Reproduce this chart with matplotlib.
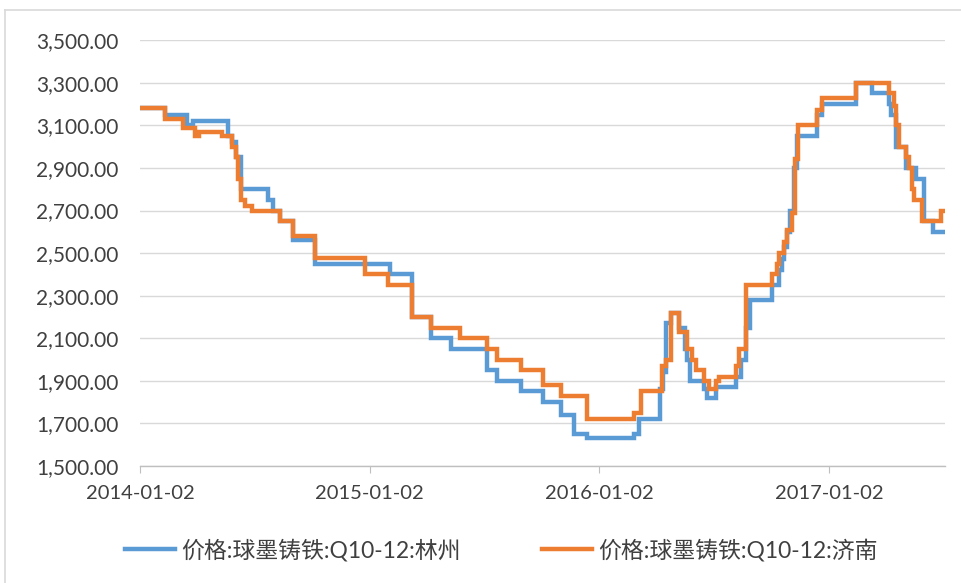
import matplotlib

matplotlib.use("Agg")
import matplotlib.dates as mdates
import matplotlib.pyplot as plt
import pandas as pd
from matplotlib.lines import Line2D
from matplotlib.ticker import FuncFormatter

plt.rcParams["font.family"] = ["Lato", "Noto Sans CJK SC", "DejaVu Sans"]
plt.rcParams["axes.unicode_minus"] = False

# 价格:球墨铸铁:Q10-12:林州 (调价日期, 元/吨)
linzhou_dates = [
    "2014-01-02", "2014-02-11", "2014-03-18", "2014-03-27", "2014-05-22",
    "2014-05-28", "2014-06-03", "2014-06-12", "2014-07-24", "2014-08-01",
    "2014-08-12", "2014-09-02", "2014-10-07", "2015-02-03", "2015-03-11",
    "2015-04-10", "2015-05-12", "2015-07-07", "2015-07-24", "2015-08-31",
    "2015-10-04", "2015-11-03", "2015-11-23", "2015-12-14", "2016-02-27",
    "2016-03-06", "2016-04-07", "2016-04-12", "2016-04-18", "2016-04-25",
    "2016-05-08", "2016-05-17", "2016-05-21", "2016-05-25", "2016-06-17",
    "2016-06-22", "2016-07-06", "2016-08-07", "2016-08-15", "2016-08-22",
    "2016-08-28", "2016-10-02", "2016-10-14", "2016-10-18", "2016-10-22",
    "2016-10-27", "2016-10-31", "2016-11-06", "2016-11-11", "2016-12-14",
    "2016-12-21", "2017-02-14", "2017-03-11", "2017-04-07", "2017-04-10",
    "2017-04-18", "2017-05-04", "2017-05-20", "2017-06-02", "2017-06-15",
    "2017-07-04",
]
linzhou_prices = [
    3180, 3150, 3100, 3120, 3050,
    3020, 2950, 2800, 2750, 2700,
    2650, 2560, 2450, 2400, 2200,
    2100, 2050, 1950, 1900, 1850,
    1800, 1740, 1650, 1630, 1650,
    1720, 1860, 1940, 2170, 2220,
    2150, 2050, 2000, 1900, 1860,
    1820, 1870, 1920, 2000, 2150,
    2280, 2350, 2420, 2470, 2530,
    2600, 2700, 2900, 3050, 3150,
    3200, 3300, 3250, 3200, 3150,
    3000, 2900, 2850, 2650, 2600,
    2600,
]

# 价格:球墨铸铁:Q10-12:济南
jinan_dates = [
    "2014-01-02", "2014-02-11", "2014-03-11", "2014-03-30", "2014-04-06",
    "2014-05-12", "2014-05-28", "2014-06-03", "2014-06-07", "2014-06-11",
    "2014-06-18", "2014-06-29", "2014-08-12", "2014-09-02", "2014-10-07",
    "2014-12-25", "2015-01-31", "2015-03-11", "2015-04-10", "2015-05-25",
    "2015-07-07", "2015-07-24", "2015-08-31", "2015-10-04", "2015-11-03",
    "2015-12-14", "2016-02-27", "2016-03-09", "2016-04-11", "2016-04-18",
    "2016-04-25", "2016-05-08", "2016-05-21", "2016-05-29", "2016-06-04",
    "2016-06-17", "2016-06-25", "2016-07-06", "2016-07-11", "2016-08-07",
    "2016-08-12", "2016-08-23", "2016-10-02", "2016-10-10", "2016-10-14",
    "2016-10-22", "2016-10-27", "2016-11-03", "2016-11-08", "2016-11-13",
    "2016-12-13", "2016-12-21", "2017-02-14", "2017-04-07", "2017-04-15",
    "2017-04-18", "2017-04-23", "2017-05-04", "2017-05-09", "2017-05-14",
    "2017-05-17", "2017-05-29", "2017-06-29", "2017-07-04",
]
jinan_prices = [
    3180, 3130, 3090, 3050, 3070,
    3050, 3000, 2950, 2850, 2750,
    2720, 2700, 2650, 2580, 2475,
    2400, 2350, 2200, 2150, 2100,
    2050, 2000, 1950, 1880, 1830,
    1720, 1750, 1850, 1970, 2000,
    2220, 2130, 2050, 2000, 1950,
    1900, 1860, 1900, 1920, 1970,
    2050, 2350, 2400, 2450, 2500,
    2550, 2610, 2690, 2940, 3100,
    3170, 3230, 3300, 3250, 3190,
    3100, 3000, 2950, 2900, 2800,
    2750, 2650, 2700, 2700,
]

x_ticks = ["2014-01-02", "2015-01-02", "2016-01-02", "2017-01-02"]
y_ticks = [1500, 1700, 1900, 2100, 2300, 2500, 2700, 2900, 3100, 3300, 3500]

BLUE = "#5B9BD5"
ORANGE = "#ED7D31"
TEXT = "#404040"

fig = plt.figure(figsize=(9.62, 5.83), dpi=100)
ax = fig.add_axes([0.1455, 0.2007, 0.837, 0.7303])

ax.plot(pd.to_datetime(linzhou_dates), linzhou_prices, drawstyle="steps-post",
        color=BLUE, lw=3.2, solid_joinstyle="miter",
        label="价格:球墨铸铁:Q10-12:林州")
ax.plot(pd.to_datetime(jinan_dates), jinan_prices, drawstyle="steps-post",
        color=ORANGE, lw=3.2, solid_joinstyle="miter",
        label="价格:球墨铸铁:Q10-12:济南")

ax.set_ylim(1500, 3500)
ax.set_xlim(pd.Timestamp("2014-01-02"), pd.Timestamp("2017-07-05"))
ax.set_yticks(y_ticks)
ax.yaxis.set_major_formatter(FuncFormatter(lambda v, _: f"{v:,.2f}"))
ax.set_xticks(pd.to_datetime(x_ticks))
ax.xaxis.set_major_formatter(mdates.DateFormatter("%Y-%m-%d"))

ax.grid(axis="y", color="#D9D9D9", lw=1)
ax.set_axisbelow(True)
for side in ["top", "right", "left"]:
    ax.spines[side].set_visible(False)
ax.spines["bottom"].set_color("#BFBFBF")
ax.spines["bottom"].set_linewidth(1)
ax.tick_params(axis="y", length=0, pad=15.5, labelsize=15, labelcolor=TEXT)
ax.tick_params(axis="x", length=5, color="#BFBFBF", pad=9, labelsize=14.5,
               labelcolor=TEXT)

fig.legend(loc="center left", bbox_to_anchor=(125 / 962, 1 - 550 / 583), ncol=2,
           frameon=False, fontsize=16.5, handlelength=2.2, handletextpad=0.25,
           columnspacing=3.55, labelcolor=TEXT, borderaxespad=0, borderpad=0)

# outer frame of the chart area
fig.add_artist(Line2D([5 / 962, 1], [1 - 10 / 583, 1 - 10 / 583],
                      color="#D9D9D9", lw=1.2))
fig.add_artist(Line2D([5 / 962, 5 / 962], [0, 1 - 10 / 583],
                      color="#D9D9D9", lw=1.2))

fig.savefig("out.png", dpi=100)
plt.close(fig)
